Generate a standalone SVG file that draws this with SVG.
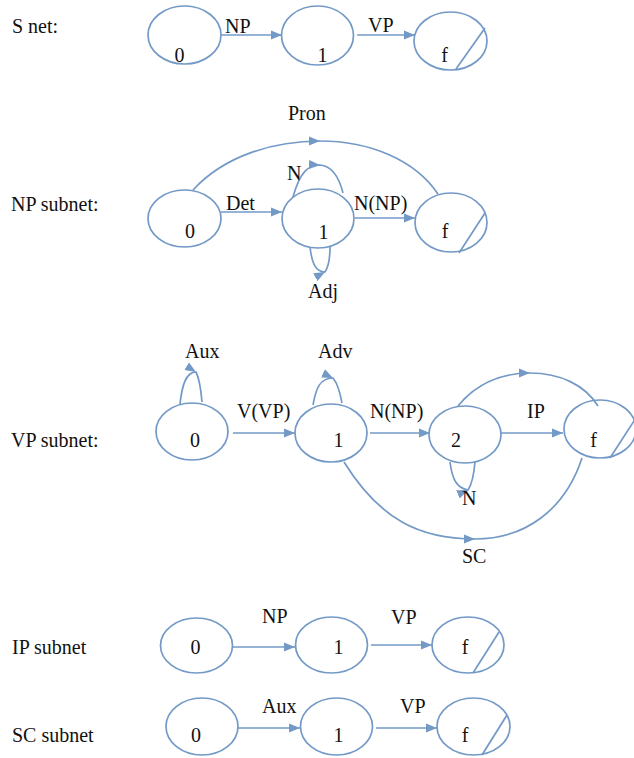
<svg xmlns="http://www.w3.org/2000/svg" width="634" height="758" viewBox="0 0 634 758" font-family="'Liberation Serif', 'DejaVu Serif', serif" font-size="20">
<style>
  text { font-family: 'Liberation Serif', 'DejaVu Serif', serif; font-size: 20px; fill: #111; }
  .c { text-anchor: middle; }
  .node ellipse { fill: none; stroke: #7399c6; stroke-width: 1.7; }
  .node line { stroke: #7399c6; stroke-width: 1.7; }
  .edge { fill: none; stroke: #7399c6; stroke-width: 1.7; }
  .a { marker-end: url(#ah); }
  .m { marker-mid: url(#ah); }
</style>
<defs>
  <marker id="ah" markerUnits="userSpaceOnUse" markerWidth="12" markerHeight="10" refX="11" refY="5" orient="auto" viewBox="0 0 12 10">
    <path d="M0,0.5 L11,5 L0,9.5 z" fill="#7399c6"/>
  </marker>
</defs>

<!-- Titles -->
<g id="titles">
  <text x="12" y="33">S net:</text>
  <text x="11" y="211">NP subnet:</text>
  <text x="11" y="447">VP subnet:</text>
  <text x="12" y="654">IP subnet</text>
  <text x="12" y="742">SC subnet</text>
</g>

<!-- S net -->
<g id="s0" class="node"><ellipse cx="184.5" cy="35" rx="36.5" ry="29"/><text class="c" x="179.5" y="62">0</text></g>
<g id="s1" class="node"><ellipse cx="317.5" cy="35.5" rx="36" ry="29.5"/><text class="c" x="322.5" y="62">1</text></g>
<g id="sf" class="node"><ellipse cx="450.5" cy="41" rx="36.5" ry="29"/><line x1="485" y1="28" x2="456" y2="69"/><text class="c" x="444.5" y="62">f</text></g>

<!-- NP subnet -->
<g id="np0" class="node"><ellipse cx="184.5" cy="218.5" rx="36.5" ry="28.5"/><text class="c" x="190" y="238">0</text></g>
<g id="np1" class="node"><ellipse cx="318" cy="218.5" rx="36" ry="29.5"/><text class="c" x="323.5" y="239">1</text></g>
<g id="npf" class="node"><ellipse cx="451" cy="222.5" rx="36" ry="29.5"/><line x1="485" y1="213" x2="459" y2="253"/><text class="c" x="445" y="238">f</text></g>

<!-- VP subnet -->
<g id="vp0" class="node"><ellipse cx="192" cy="431.5" rx="36" ry="28.5"/><text class="c" x="195" y="447">0</text></g>
<g id="vp1" class="node"><ellipse cx="331" cy="433" rx="36" ry="29"/><text class="c" x="338.5" y="447">1</text></g>
<g id="vp2" class="node"><ellipse cx="465" cy="434.5" rx="36" ry="28.5"/><text class="c" x="456" y="447">2</text></g>
<g id="vpf" class="node"><ellipse cx="600" cy="429" rx="36" ry="29"/><line x1="610" y1="458" x2="645" y2="404"/><text class="c" x="593.5" y="447">f</text></g>

<!-- IP subnet -->
<g id="ip0" class="node"><ellipse cx="196.5" cy="645.5" rx="36" ry="27.5"/><text class="c" x="195.5" y="654">0</text></g>
<g id="ip1" class="node"><ellipse cx="331.5" cy="645" rx="36" ry="28"/><text class="c" x="338.5" y="654">1</text></g>
<g id="ipf" class="node"><ellipse cx="468" cy="645" rx="36" ry="28"/><line x1="499" y1="632" x2="473" y2="673"/><text class="c" x="465" y="654">f</text></g>

<!-- SC subnet -->
<g id="sc0" class="node"><ellipse cx="202" cy="726.5" rx="36" ry="28.5"/><text class="c" x="196" y="742">0</text></g>
<g id="sc1" class="node"><ellipse cx="336.5" cy="726.5" rx="36" ry="28.5"/><text class="c" x="338.5" y="742">1</text></g>
<g id="scf" class="node"><ellipse cx="473.5" cy="726.5" rx="36.5" ry="28.5"/><line x1="507" y1="715" x2="482" y2="755"/><text class="c" x="465" y="742">f</text></g>

<!-- Connectors -->
<g id="connectors">
  <!-- S net -->
  <path class="edge a" d="M221 35 L282 35"/>
  <path class="edge a" d="M357 35 L415 35"/>
  <!-- NP subnet -->
  <path class="edge a" d="M221 212 L282 212"/>
  <path class="edge a" d="M355 218 L415 218"/>
  <path class="edge m" d="M193 190 C225 155, 275 141, 320 141 C370 141, 415 160, 438 194"/>
  <path class="edge m" d="M293 197 C300 172, 308 165, 320 165 C332 166, 339 177, 343 193"/>
  <path class="edge m" d="M310 247 C312 264, 316 272, 325 272 C329 266, 330 258, 330 247"/>
  <!-- VP subnet -->
  <path class="edge m" d="M180 404 C182 385, 186 372, 196 372 C200 380, 201 390, 202 402"/>
  <path class="edge m" d="M313 405 C316 388, 320 378, 333 378 C338 384, 340 392, 342 403"/>
  <path class="edge a" d="M233 433 L295 433"/>
  <path class="edge a" d="M370 433 L430 433"/>
  <path class="edge a" d="M501 433 L563 433"/>
  <path class="edge m" d="M458 406 C475 385, 500 373, 530 373 C560 373, 585 385, 598 406"/>
  <path class="edge m" d="M450 462 C452 478, 456 488, 468 490 C472 484, 474 474, 475 462"/>
  <path class="edge m" d="M344 462 C380 520, 420 539, 475 539 C525 539, 565 510, 582 458"/>
  <!-- IP subnet -->
  <path class="edge a" d="M233 647 L295 647"/>
  <path class="edge a" d="M371 645 L432 645"/>
  <!-- SC subnet -->
  <path class="edge a" d="M238 728 L300 728"/>
  <path class="edge a" d="M376 728 L437 728"/>
</g>

<!-- Edge labels -->
<g id="labels">
  <text x="225" y="33">NP</text>
  <text x="368" y="32">VP</text>
  <text x="288" y="120">Pron</text>
  <text x="287" y="180">N</text>
  <text x="226" y="210">Det</text>
  <text x="354" y="210">N(NP)</text>
  <text x="308" y="298">Adj</text>
  <text x="185" y="358">Aux</text>
  <text x="318" y="358">Adv</text>
  <text x="237" y="418">V(VP)</text>
  <text x="370" y="418">N(NP)</text>
  <text x="527" y="418">IP</text>
  <text x="462" y="505">N</text>
  <text x="462" y="563">SC</text>
  <text x="262" y="623">NP</text>
  <text x="391" y="624">VP</text>
  <text x="262" y="713">Aux</text>
  <text x="400" y="713">VP</text>
</g>
</svg>
